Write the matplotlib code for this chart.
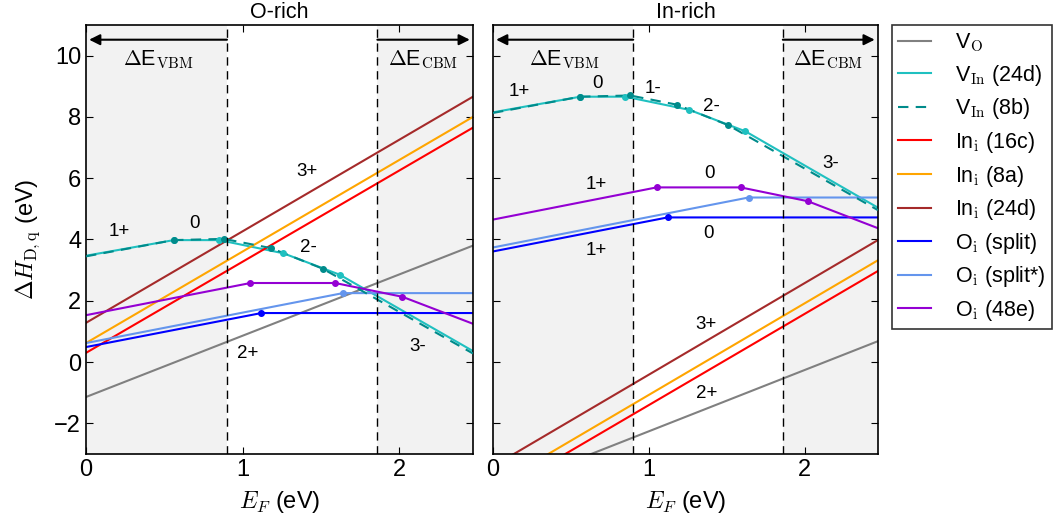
import matplotlib
matplotlib.use("Agg")
import matplotlib.pyplot as plt

plt.rcParams['font.family'] = ['Liberation Sans', 'DejaVu Sans']
plt.rcParams['mathtext.fontset'] = 'cm'

# Fermi level range and band-edge regions (eV)
ef_max = 2.47
vbm_edge = 0.90
cbm_edge = 1.86

# O-rich formation energies: breakpoints (E_F, dH)
vo_x = [0, 2.47]
vo_y = [-1.14, 3.80]
vin24_x = [0, 0.56, 0.85, 1.26, 1.62, 2.47]
vin24_y = [3.47, 3.98, 3.98, 3.55, 2.85, 0.36]
vin8_x = [0, 0.56, 0.88, 1.18, 1.51, 2.47]
vin8_y = [3.45, 3.98, 4.02, 3.72, 3.05, 0.28]
ini16_x = [0, 2.47]
ini16_y = [0.30, 7.65]
ini8_x = [0, 2.47]
ini8_y = [0.62, 8.00]
ini24_x = [0, 2.47]
ini24_y = [1.28, 8.66]
oisp_x = [0, 1.12, 2.47]
oisp_y = [0.49, 1.60, 1.60]
oisps_x = [0, 1.64, 2.47]
oisps_y = [0.62, 2.25, 2.25]
oi48_x = [0, 1.05, 1.59, 2.02, 2.47]
oi48_y = [1.53, 2.58, 2.58, 2.13, 1.25]

# shift of each defect going from O-rich to In-rich (eV)
shift_vo = -3.12
shift_vin = 4.68
shift_ini = -4.68
shift_oi = 3.12

labels = ['V$_{\\rm O}$', 'V$_{\\rm In}$ (24d)', 'V$_{\\rm In}$ (8b)',
          'In$_{\\rm i}$ (16c)', 'In$_{\\rm i}$ (8a)', 'In$_{\\rm i}$ (24d)',
          'O$_{\\rm i}$ (split)', 'O$_{\\rm i}$ (split*)', 'O$_{\\rm i}$ (48e)']
colors = ['#808080', '#1fc0c0', '#008b8b', '#ff0000', '#ffa500', '#a52a2a',
          '#0000ff', '#6495ed', '#9400d3']

# charge-state annotations (E_F, dH, text)
orich_notes = [(0.21, 4.25, '1+'), (0.69, 4.52, '0'), (1.41, 6.23, '3+'),
               (1.42, 3.74, '2-'), (1.03, 0.28, '2+'), (2.12, 0.52, '3-')]
inrich_notes = [(0.17, 8.83, '1+'), (0.67, 9.10, '0'), (1.03, 8.92, '1-'),
                (1.40, 8.34, '2-'), (2.17, 6.47, '3-'), (0.66, 5.80, '1+'),
                (1.39, 6.15, '0'), (1.38, 4.18, '0'), (0.66, 3.64, '1+'),
                (1.37, 1.23, '3+'), (1.37, -1.02, '2+')]

defects = [
    (vo_x, vo_y, shift_vo, '-', False),
    (vin24_x, vin24_y, shift_vin, '-', True),
    (vin8_x, vin8_y, shift_vin, '--', True),
    (ini16_x, ini16_y, shift_ini, '-', False),
    (ini8_x, ini8_y, shift_ini, '-', False),
    (ini24_x, ini24_y, shift_ini, '-', False),
    (oisp_x, oisp_y, shift_oi, '-', True),
    (oisps_x, oisps_y, shift_oi, '-', True),
    (oi48_x, oi48_y, shift_oi, '-', True),
]

fig = plt.figure(figsize=(10.63, 5.24), dpi=100)
ax1 = fig.add_axes([0.0809, 0.1336, 0.364, 0.8187])
ax2 = fig.add_axes([0.4638, 0.1336, 0.362, 0.8187])


def draw_panel(ax, rich, title, notes):
    ax.axvspan(0, vbm_edge, color='#f2f2f2', zorder=0, lw=0)
    ax.axvspan(cbm_edge, ef_max, color='#f2f2f2', zorder=0, lw=0)
    handles = []
    for (xs, ys, shift, ls, dots), col, lab in zip(defects, colors, labels):
        yy = [v + (shift if rich else 0) for v in ys]
        if ls == '--':
            h, = ax.plot(xs, yy, color=col, lw=1.5, ls=(0, (5, 3.5)), label=lab, zorder=3)
        else:
            h, = ax.plot(xs, yy, color=col, lw=1.5, label=lab, zorder=2)
        if dots:
            ax.plot(xs[1:-1], yy[1:-1], 'o', color=col, ms=4, zorder=4)
        handles.append(h)
    for xv in (vbm_edge, cbm_edge):
        ax.axvline(xv, color='black', lw=1.0, ls=(0, (6, 4)), zorder=5)
    ax.annotate('', xy=(0.02, 10.52), xytext=(vbm_edge, 10.52),
                arrowprops=dict(arrowstyle='-|>', color='black', lw=1.5,
                                mutation_scale=16, shrinkA=0, shrinkB=0), zorder=6)
    ax.annotate('', xy=(ef_max - 0.02, 10.52), xytext=(cbm_edge, 10.52),
                arrowprops=dict(arrowstyle='-|>', color='black', lw=1.5,
                                mutation_scale=16, shrinkA=0, shrinkB=0), zorder=6)
    ax.text(0.46, 9.86, '$\\Delta$E$_{\\rm VBM}$', ha='center', va='center', fontsize=15.5)
    ax.text(2.15, 9.86, '$\\Delta$E$_{\\rm CBM}$', ha='center', va='center', fontsize=15.5)
    for x, y, t in notes:
        ax.text(x, y, t, ha='center', va='center', fontsize=13.5)
    ax.set_xlim(0, ef_max)
    ax.set_ylim(-3, 11)
    ax.set_xticks([0, 1, 2])
    ax.set_yticks([-2, 0, 2, 4, 6, 8, 10])
    ax.tick_params(direction='in', top=True, right=True, length=5, labelsize=17)
    ax.set_title(title, fontsize=15.5, pad=5)
    ax.set_xlabel('$E_F$ (eV)', fontsize=17, labelpad=6)
    for sp in ax.spines.values():
        sp.set_linewidth(1.2)
    return handles


handles = draw_panel(ax1, False, 'O-rich', orich_notes)
ax1.set_ylabel('$\\Delta H_{\\rm D,q}$ (eV)', fontsize=17, labelpad=9)
ax1.set_yticklabels(['\u22122', '0', '2', '4', '6', '8', '10'])
draw_panel(ax2, True, 'In-rich', inrich_notes)
ax2.set_yticklabels([])

leg = fig.legend(handles=handles, loc='upper left', bbox_to_anchor=(0.8388, 0.9523),
                 fontsize=15.5, frameon=True, fancybox=False, edgecolor='black',
                 handlelength=1.55, handletextpad=1.1, labelspacing=0.4,
                 borderpad=0.3, borderaxespad=0)
leg.get_frame().set_linewidth(1.2)

fig.savefig('out.png', dpi=100)
